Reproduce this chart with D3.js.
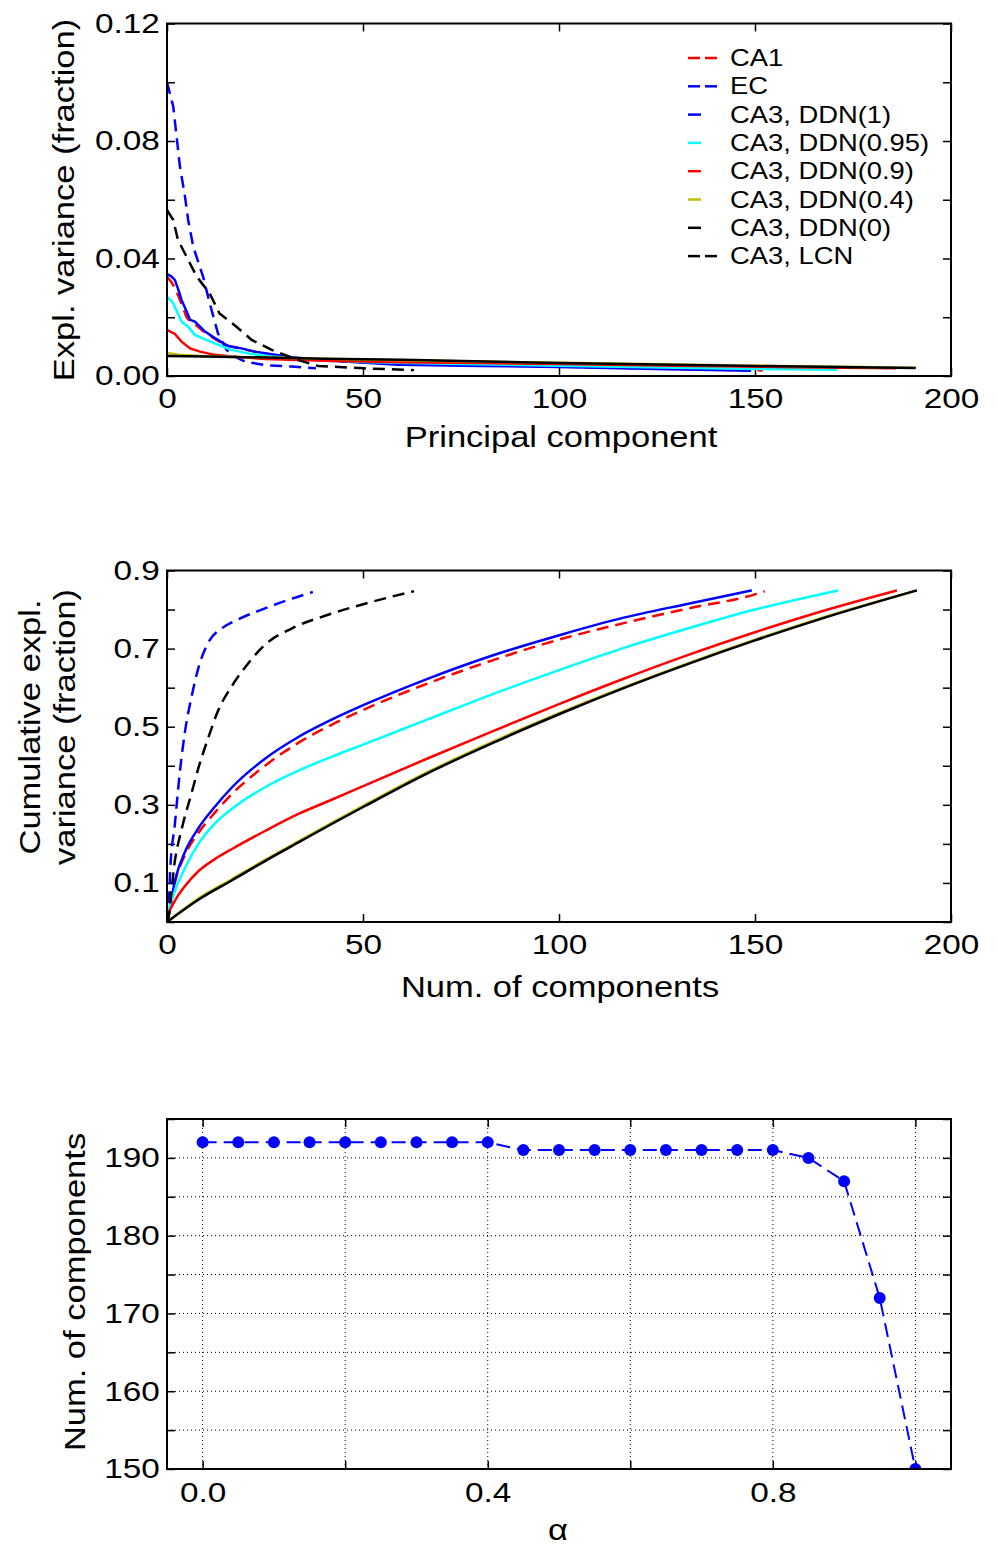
<!DOCTYPE html>
<html>
<head>
<meta charset="utf-8">
<script src="https://cdn.jsdelivr.net/npm/d3@7"></script>
<style>
body { margin: 0; background: #fff; }
svg text { font-family: "Liberation Sans", Arial, sans-serif; fill: #000; }
</style>
</head>
<body>
<div id="chart"></div>
<script>
const WIDTH = 998, HEIGHT = 1546;
const LEFT = 167, RIGHT = 951;
const STRETCH = 1.19;

// ---- data: explained variance per principal component [component, fraction]
var seriesNames = ['CA1', 'EC', 'CA3, DDN(1)', 'CA3, DDN(0.95)', 'CA3, DDN(0.9)', 'CA3, DDN(0.4)', 'CA3, DDN(0)', 'CA3, LCN'];

var varCA1 = [[0,0.0338],[1,0.0322],[2,0.030],[3,0.027],[4,0.0235],[5,0.020],[6,0.0185],[7,0.0178],[9,0.0155],[12,0.0128],[15,0.0105],[19,0.0092],[23,0.0081],[27,0.0072],[32,0.0063],[42,0.0051],[60,0.0041],[80,0.0036],[100,0.0032],[125,0.0025],[152,0.0019]];
var varEC = [[0,0.100],[1.6,0.0917],[3.3,0.0713],[4.6,0.061],[5.4,0.0531],[6.7,0.044],[9.2,0.0338],[10.9,0.0248],[13,0.0145],[15.2,0.0089],[17.3,0.0066],[19.9,0.0049],[25,0.0037],[31.8,0.0032],[38,0.0026]];
var varDDN1 = [[0,0.0347],[1,0.034],[2,0.0327],[3,0.029],[3.7,0.0259],[5,0.022],[5.9,0.0191],[7.1,0.0185],[9.7,0.0151],[12.2,0.0129],[15.6,0.0102],[19,0.0094],[22.4,0.0083],[26.7,0.0074],[31.8,0.0064],[42,0.0052],[59,0.0038],[80,0.0034],[100,0.0031],[125,0.0024],[149,0.0018]];
var varDDN095 = [[0,0.027],[1.6,0.0248],[3.7,0.0185],[5.4,0.0168],[7.1,0.014],[9.7,0.0125],[12.2,0.0111],[16.4,0.0089],[20.7,0.0077],[26.7,0.0066],[33.5,0.006],[50,0.0048],[75,0.0041],[100,0.0035],[130,0.0028],[150,0.0024],[171,0.0021]];
var varDDN09 = [[0,0.0157],[2,0.0143],[3.7,0.0117],[5.9,0.0094],[8.4,0.0083],[12.2,0.0072],[16.4,0.0066],[25,0.0058],[40,0.0052],[60,0.0047],[80,0.0044],[100,0.0041],[130,0.0035],[160,0.003],[186,0.0026]];
var varDDN04 = [[0,0.0078],[3,0.0072],[10,0.0067],[20,0.0064],[40,0.0059],[60,0.0054],[100,0.0045],[150,0.0035],[191,0.0028]];
var varDDN0 = [[0,0.0068],[10,0.0066],[20,0.0064],[40,0.0059],[60,0.0055],[100,0.0044],[150,0.0034],[191,0.0027]];
var varLCN = [[0,0.0565],[1.6,0.0531],[2.8,0.0463],[5,0.0406],[7.6,0.0338],[10.9,0.0281],[13.4,0.0213],[17.5,0.017],[21.6,0.0123],[26.7,0.0089],[33.5,0.0054],[38.6,0.0034],[50.5,0.0026],[63,0.002]];

// ---- data: cumulative explained variance [num. of components, fraction]
var cumCA1 = [[0,0],[0.3,0.01],[2,0.1],[4.6,0.172],[8,0.228],[12.2,0.28],[16.6,0.328],[25,0.40],[33.4,0.458],[42,0.505],[50.5,0.545],[66.3,0.61],[83,0.67],[100,0.723],[116,0.764],[133,0.803],[150,0.839],[152.5,0.847]];
var cumEC = [[0,0],[0.3,0.01],[0.8,0.13],[2,0.25],[3.3,0.386],[4.6,0.488],[6.4,0.583],[8,0.65],[10.5,0.715],[14,0.752],[18.2,0.775],[25,0.803],[31.9,0.828],[37.2,0.845]];
var cumDDN1 = [[0,0],[0.25,0.01],[2,0.105],[4.6,0.18],[8,0.24],[12.2,0.295],[16.6,0.345],[25,0.418],[33.4,0.473],[42,0.518],[50.5,0.557],[66.3,0.622],[83.2,0.683],[100.3,0.735],[116,0.778],[133,0.815],[149.2,0.849]];
var cumDDN095 = [[0,0],[0.3,0.02],[2,0.079],[4.6,0.138],[8,0.2],[12.2,0.252],[16.6,0.29],[25,0.345],[33.4,0.387],[42,0.423],[50.5,0.456],[66.3,0.518],[83,0.583],[100,0.645],[116,0.70],[133,0.752],[150,0.80],[171.2,0.849]];
var cumDDN09 = [[0,0],[0.3,0.015],[2,0.054],[4.6,0.092],[8,0.13],[12.2,0.161],[16.6,0.187],[25,0.233],[33.4,0.276],[42,0.313],[50.5,0.35],[66.3,0.418],[83,0.488],[100,0.558],[116,0.621],[133,0.684],[150,0.742],[165.8,0.792],[186.2,0.849]];
var cumDDN04 = [[0,0],[8,0.06],[16.6,0.11],[25,0.159],[33.4,0.206],[42,0.254],[50.5,0.3],[66.3,0.383],[83,0.461],[100,0.535],[116,0.599],[133,0.663],[150,0.723],[165.8,0.775],[191.3,0.849]];
var cumDDN0 = [[0,0],[8,0.057],[16.6,0.107],[25,0.156],[33.4,0.203],[42,0.251],[50.5,0.297],[66.3,0.38],[83,0.458],[100,0.532],[116,0.597],[133,0.661],[150,0.721],[165.8,0.773],[191.3,0.849]];
var cumLCN = [[0,0],[0.3,0.01],[2,0.156],[3.8,0.24],[6.4,0.335],[8,0.394],[10.5,0.471],[13,0.54],[16.6,0.605],[20.7,0.662],[25,0.71],[31.9,0.752],[40.3,0.784],[50.5,0.815],[63,0.847]];

// ---- data: number of components vs alpha
var alphaValues = [0, 0.05, 0.1, 0.15, 0.2, 0.25, 0.3, 0.35, 0.4, 0.45, 0.5, 0.55, 0.6, 0.65, 0.7, 0.75, 0.8, 0.85, 0.9, 0.95, 1.0];
var numComponents = [192, 192, 192, 192, 192, 192, 192, 192, 192, 191, 191, 191, 191, 191, 191, 191, 191, 190, 187, 172, 150];

// ---- tick labels
var pcTicks = [0, 50, 100, 150, 200];
var varTicks = [0, 0.02, 0.04, 0.06, 0.08, 0.10, 0.12];
var varTickLabels = [0, 0.04, 0.08, 0.12];
var cumTicks = [0, 0.1, 0.2, 0.3, 0.4, 0.5, 0.6, 0.7, 0.8, 0.9];
var cumTickLabels = [0.1, 0.3, 0.5, 0.7, 0.9];
var alphaTicks = [0, 0.2, 0.4, 0.6, 0.8, 1.0];
var alphaTickLabels = [0, 0.4, 0.8];
var compTicks = [150, 155, 160, 165, 170, 175, 180, 185, 190, 195];
var compTickLabels = [150, 160, 170, 180, 190];

// ---- styles (one per series, same order as seriesNames)
var seriesStyles = [
    {color: '#ff0000', dash: '12,7'},
    {color: '#0000ff', dash: '12,7'},
    {color: '#0000ff', dash: null},
    {color: '#00ffff', dash: null},
    {color: '#ff0000', dash: null},
    {color: '#bfbf00', dash: null},
    {color: '#000000', dash: null},
    {color: '#000000', dash: '12,7'}
];

var svg = d3.select('#chart').append('svg')
    .attr('width', WIDTH)
    .attr('height', HEIGHT);
var defs = svg.append('defs');

var addText = function (parent, x, y, str, size, rotate, anchor) {
    return parent.append('text')
        .attr('transform', 'translate(' + x + ',' + y + ')' + (rotate ? ' rotate(-90)' : '') + ' scale(' + STRETCH + ',1)')
        .attr('text-anchor', anchor || 'middle')
        .attr('dominant-baseline', 'central')
        .style('font-size', size + 'px')
        .text(str);
};

var onlyLabels = function (list, fmt) {
    return function (d) {
        return list.some(function (v) { return Math.abs(v - d) < 1e-9; }) ? fmt(d) : '';
    };
};

var initializePanel = function (id, xScale, yScale, xTicks, xLabels, xFmt, yTicks, yLabels, yFmt, pad) {
    var bottom = yScale.range()[0], top = yScale.range()[1];
    var g = svg.append('g');

    defs.append('clipPath').attr('id', id)
        .append('rect')
        .attr('x', LEFT).attr('y', top)
        .attr('width', RIGHT - LEFT).attr('height', bottom - top);

    g.append('g')
        .attr('transform', 'translate(0,' + bottom + ')')
        .call(d3.axisBottom(xScale).tickValues(xTicks).tickSizeInner(-8).tickSizeOuter(0)
            .tickPadding(pad).tickFormat(onlyLabels(xLabels, xFmt)))
        .classed('axis', true);
    g.append('g')
        .attr('transform', 'translate(0,' + top + ')')
        .call(d3.axisTop(xScale).tickValues(xTicks).tickSizeInner(-8).tickSizeOuter(0).tickFormat(''))
        .classed('axis', true);
    g.append('g')
        .attr('transform', 'translate(' + LEFT + ',0)')
        .call(d3.axisLeft(yScale).tickValues(yTicks).tickSizeInner(-8).tickSizeOuter(0)
            .tickPadding(6).tickFormat(onlyLabels(yLabels, yFmt)))
        .classed('axis', true);
    g.append('g')
        .attr('transform', 'translate(' + RIGHT + ',0)')
        .call(d3.axisRight(yScale).tickValues(yTicks).tickSizeInner(-8).tickSizeOuter(0).tickFormat(''))
        .classed('axis', true);

    g.selectAll('.axis .domain').remove();
    g.selectAll('.axis line').attr('stroke', '#000').attr('stroke-width', 1.5);
    g.selectAll('.axis text')
        .style('font-size', '28px')
        .attr('transform', 'scale(' + STRETCH + ',1)');

    var plot = g.append('g').attr('clip-path', 'url(#' + id + ')');
    var frame = function () {
        g.append('rect')
            .attr('x', LEFT).attr('y', top)
            .attr('width', RIGHT - LEFT).attr('height', bottom - top)
            .attr('fill', 'none').attr('stroke', '#000').attr('stroke-width', 2);
    };
    return {g: g, plot: plot, frame: frame};
};

var drawSeries = function (panel, line, list) {
    list.forEach(function (data, i) {
        panel.plot.append('path')
            .attr('d', line(data))
            .attr('fill', 'none')
            .attr('stroke', seriesStyles[i].color)
            .attr('stroke-width', 2.5)
            .attr('stroke-dasharray', seriesStyles[i].dash);
    });
};

var loadChart = function () {
    // ---------- panel 1: explained variance
    var xPc = d3.scaleLinear().domain([0, 200]).range([LEFT, RIGHT]);
    var yVar = d3.scaleLinear().domain([0, 0.12]).range([376, 23.5]);
    var p1 = initializePanel('clip1', xPc, yVar, pcTicks, pcTicks, d3.format('d'),
        varTicks, varTickLabels, d3.format('.2f'), 12);
    var line1 = d3.line().x(function (d) { return xPc(d[0]); }).y(function (d) { return yVar(d[1]); });
    drawSeries(p1, line1, [varCA1, varEC, varDDN1, varDDN095, varDDN09, varDDN04, varDDN0, varLCN]);
    p1.frame();

    var legend = p1.g.append('g');
    seriesNames.forEach(function (name, i) {
        var yy = 58 + i * 28.3;
        var st = seriesStyles[i];
        if (st.dash) {
            legend.append('line').attr('x1', 688).attr('x2', 700).attr('y1', yy).attr('y2', yy)
                .attr('stroke', st.color).attr('stroke-width', 2.5);
            legend.append('line').attr('x1', 705).attr('x2', 717).attr('y1', yy).attr('y2', yy)
                .attr('stroke', st.color).attr('stroke-width', 2.5);
        } else {
            legend.append('line').attr('x1', 688).attr('x2', 701).attr('y1', yy).attr('y2', yy)
                .attr('stroke', st.color).attr('stroke-width', 2.5);
        }
        addText(legend, 730, yy, name, 23, false, 'start');
    });

    addText(p1.g, 561, 437, 'Principal component', 29);
    addText(p1.g, 64, 200, 'Expl. variance (fraction)', 29, true);

    // ---------- panel 2: cumulative explained variance
    var yCum = d3.scaleLinear().domain([0, 0.9]).range([922, 570.5]);
    var p2 = initializePanel('clip2', xPc, yCum, pcTicks, pcTicks, d3.format('d'),
        cumTicks, cumTickLabels, d3.format('.1f'), 12);
    var line2 = d3.line()
        .curve(d3.curveMonotoneX)
        .x(function (d) { return xPc(d[0]); })
        .y(function (d) { return yCum(d[1]); });
    drawSeries(p2, line2, [cumCA1, cumEC, cumDDN1, cumDDN095, cumDDN09, cumDDN04, cumDDN0, cumLCN]);
    p2.frame();

    addText(p2.g, 560, 987, 'Num. of components', 29);
    addText(p2.g, 30, 727, 'Cumulative expl.', 29, true);
    addText(p2.g, 65, 727, 'variance (fraction)', 29, true);

    // ---------- panel 3: number of components vs alpha
    var xAlpha = d3.scaleLinear().domain([-0.05, 1.05]).range([LEFT, RIGHT]);
    var yComp = d3.scaleLinear().domain([150, 195]).range([1469, 1119]);
    var p3 = initializePanel('clip3', xAlpha, yComp, alphaTicks, alphaTickLabels, d3.format('.1f'),
        compTicks, compTickLabels, d3.format('d'), 13);

    var grid = p3.plot.append('g');
    grid.selectAll('.vgrid')
        .data(alphaTicks)
        .enter()
        .append('line')
        .attr('x1', function (d) { return xAlpha(d); })
        .attr('x2', function (d) { return xAlpha(d); })
        .attr('y1', yComp(150)).attr('y2', yComp(195))
        .attr('stroke', '#000').attr('stroke-width', 1).attr('stroke-dasharray', '1,3');
    grid.selectAll('.hgrid')
        .data(compTicks.slice(1, -1))
        .enter()
        .append('line')
        .attr('x1', LEFT).attr('x2', RIGHT)
        .attr('y1', function (d) { return yComp(d); })
        .attr('y2', function (d) { return yComp(d); })
        .attr('stroke', '#000').attr('stroke-width', 1).attr('stroke-dasharray', '1,3');

    var points = alphaValues.map(function (a, i) { return [a, numComponents[i]]; });
    var line3 = d3.line().x(function (d) { return xAlpha(d[0]); }).y(function (d) { return yComp(d[1]); });
    p3.plot.append('path')
        .attr('d', line3(points))
        .attr('fill', 'none')
        .attr('stroke', '#0000ff')
        .attr('stroke-width', 2)
        .attr('stroke-dasharray', '14,7');
    p3.plot.selectAll('circle')
        .data(points)
        .enter()
        .append('circle')
        .attr('cx', function (d) { return xAlpha(d[0]); })
        .attr('cy', function (d) { return yComp(d[1]); })
        .attr('r', 6)
        .attr('fill', '#0000ff');
    p3.frame();

    addText(p3.g, 558, 1530, 'α', 29);
    addText(p3.g, 75, 1292, 'Num. of components', 29, true);
};

window.onload = loadChart;
</script>
</body>
</html>
